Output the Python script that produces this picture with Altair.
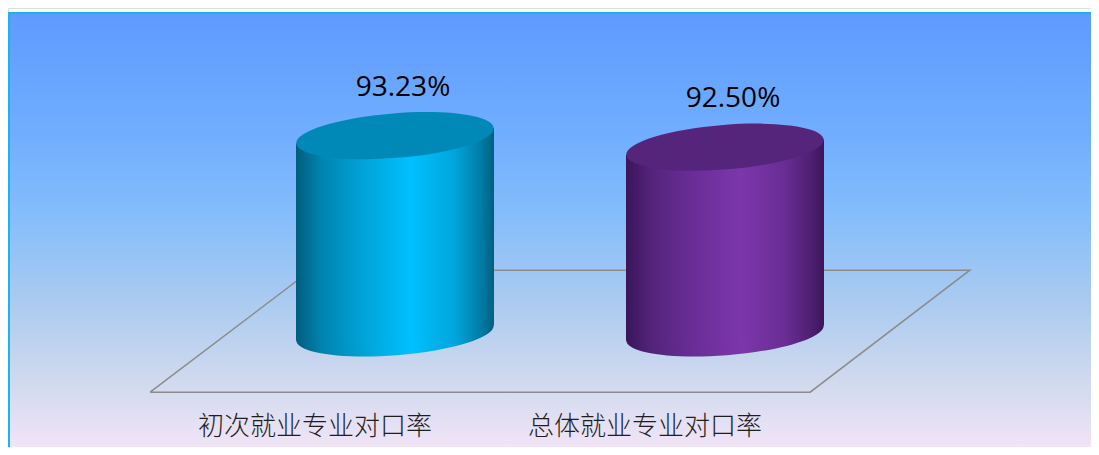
import math
import altair as alt
import pandas as pd

# ---------------- data ----------------
categories = ["初次就业专业对口率", "总体就业专业对口率"]
values = [93.23, 92.50]
value_labels = ["93.23%", "92.50%"]
positions = [0, 1]

# floor (3-D plane) corners in chart data units: x in category slots, y in value units
floor_x = [-0.742, 1.258, 1.742, -0.255, -0.742]
floor_y = [76.94, 76.94, 84.69, 84.69, 76.94]
floor_order = [0, 1, 2, 3, 4]

# ---------------- geometry / style constants ----------------
W, H = 1083, 439
BASE = 80.7            # value at the cylinder base
BASE_PX = 325          # chart px of the base
PPU = 15.75            # px per value unit
X0_PX = 387            # chart px of category slot 0
X_STEP = 330           # px per category slot
HALF_W_PX = 99
TILT_DEG = 4.5

x_dom = [(0 - X0_PX) / X_STEP, (W - X0_PX) / X_STEP]
y_dom = [BASE - (H - BASE_PX) / PPU, BASE + BASE_PX / PPU]
xs = alt.Scale(domain=x_dom, nice=False, zero=False)
ys = alt.Scale(domain=y_dom, nice=False, zero=False)

half_w = HALF_W_PX / X_STEP
tilt_units = HALF_W_PX * math.sin(math.radians(TILT_DEG)) / PPU

rb = 0.225
kb = 0.5523 * rb
ELLIPSE = (f"M-1,0C-1,{-kb:.4f},-0.5523,{-rb},0,{-rb}"
           f"C0.5523,{-rb},1,{-kb:.4f},1,0"
           f"C1,{kb:.4f},0.5523,{rb},0,{rb}"
           f"C-0.5523,{rb},-1,{kb:.4f},-1,0Z")
CAP_SIZE = (2 * HALF_W_PX) ** 2
CAP_ANGLE = 360 - TILT_DEG

body_stops = [
    [("#005d7d", 0), ("#0082ae", 0.12), ("#00a5da", 0.35), ("#00c0ff", 0.58),
     ("#00a6dc", 0.8), ("#007aa3", 0.94), ("#005f80", 1)],
    [("#39155a", 0), ("#53237a", 0.12), ("#6b2e98", 0.35), ("#7b37ab", 0.58),
     ("#692d94", 0.8), ("#4d1f70", 0.94), ("#3a1658", 1)],
]
cap_colors = ["#0088b6", "#55247b"]


def hgrad(stops):
    return alt.Gradient(
        gradient="linear", x1=0, x2=1, y1=0, y2=0,
        stops=[alt.GradientStop(color=c, offset=o) for c, o in stops],
    )


bg_grad = alt.Gradient(
    gradient="linear", x1=0, x2=0, y1=0, y2=1,
    stops=[
        alt.GradientStop(color="#5d9bff", offset=0),
        alt.GradientStop(color="#72aeff", offset=0.28),
        alt.GradientStop(color="#84bdfb", offset=0.45),
        alt.GradientStop(color="#abcbf0", offset=0.65),
        alt.GradientStop(color="#cfd9ee", offset=0.82),
        alt.GradientStop(color="#f6e6f8", offset=1),
    ],
)

base_df = pd.DataFrame({"pos": positions, "value": values, "cat": categories,
                        "label": value_labels, "base": [BASE] * len(values)})
floor_df = pd.DataFrame({"x": floor_x, "y": floor_y, "o": floor_order})

layers = []

# background panel with cyan frame
layers.append(
    alt.Chart(pd.DataFrame({"a": [0]})).mark_rect(
        fill=bg_grad, stroke="#1ab3ee", strokeWidth=2, opacity=1
    ).encode(x=alt.value(1), x2=alt.value(W + 30), y=alt.value(5), y2=alt.value(H + 12))
)

# floor plane
layers.append(
    alt.Chart(floor_df).mark_line(color="#8c8c8c", strokeWidth=1.5).encode(
        x=alt.X("x:Q", scale=xs, axis=None),
        y=alt.Y("y:Q", scale=ys, axis=None),
        order="o:O",
    )
)

for i, (p, v) in enumerate(zip(positions, values)):
    body_df = pd.DataFrame({
        "x": [p - half_w, p + half_w],
        "y": [v - tilt_units, v + tilt_units],
        "y2": [BASE - tilt_units, BASE + tilt_units],
    })
    one = base_df[base_df["pos"] == p]
    # bottom cap
    layers.append(
        alt.Chart(one).mark_point(
            shape=ELLIPSE, size=CAP_SIZE, angle=CAP_ANGLE, filled=True,
            fill=hgrad(body_stops[i]), strokeWidth=0, opacity=1,
        ).encode(x=alt.X("pos:Q", scale=xs, axis=None),
                 y=alt.Y("base:Q", scale=ys, axis=None))
    )
    # body
    layers.append(
        alt.Chart(body_df).mark_area(fill=hgrad(body_stops[i]), opacity=1).encode(
            x=alt.X("x:Q", scale=xs, axis=None),
            y=alt.Y("y:Q", scale=ys, axis=None),
            y2="y2:Q",
        )
    )
    # top cap
    layers.append(
        alt.Chart(one).mark_point(
            shape=ELLIPSE, size=CAP_SIZE, angle=CAP_ANGLE, filled=True,
            fill=cap_colors[i], strokeWidth=0, opacity=1,
        ).encode(x=alt.X("pos:Q", scale=xs, axis=None),
                 y=alt.Y("value:Q", scale=ys, axis=None))
    )

# value labels
layers.append(
    alt.Chart(base_df).mark_text(
        font="Open Sans", fontSize=28, color="#000000", dx=8, dy=-48,
        baseline="middle", align="center",
    ).encode(x=alt.X("pos:Q", scale=xs, axis=None),
             y=alt.Y("value:Q", scale=ys, axis=None),
             text="label:N")
)

# category labels
layers.append(
    alt.Chart(base_df).mark_text(
        font="Noto Sans CJK SC", fontSize=26, fontWeight=300, color="#1e1e1e", dx=-80,
        baseline="middle", align="center",
    ).encode(x=alt.X("pos:Q", scale=xs, axis=None),
             y=alt.value(419),
             text="cat:N")
)

chart = alt.layer(*layers).properties(
    width=W, height=H, padding=0, autosize=alt.AutoSizeParams(type="none")
).configure_view(stroke=None).configure(background="white")

chart.save("out.html", embed_options={"renderer": "svg", "actions": False})
